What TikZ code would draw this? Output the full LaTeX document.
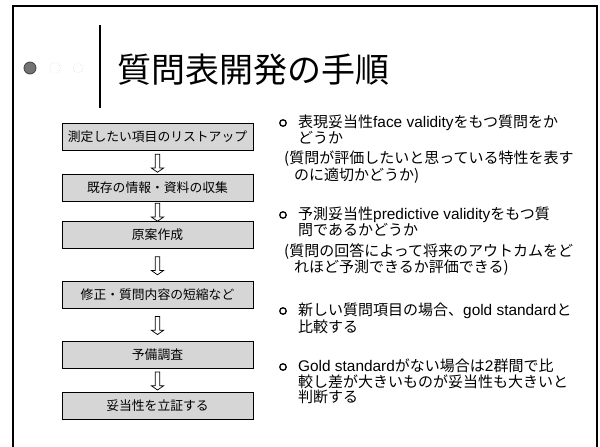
\documentclass[tikz,border=0pt]{standalone}
\usepackage{fontspec}
\setmainfont{Noto Sans CJK JP}
\newfontfamily\latf{Liberation Sans}
\usetikzlibrary{shapes.arrows,calc}
\newcommand{\lt}[1]{{\latf\fontsize{15.4}{15.5}\selectfont #1}}
\begin{document}
\begin{tikzpicture}[x=1pt,y=-1pt,
  stepbox/.style={draw=black,line width=0.6pt,fill=black!16,minimum width=191pt,minimum height=27pt,inner sep=0pt,font=\fontsize{12.8}{15}\selectfont},
  downarrow/.style={draw=black,line width=0.7pt,fill=white,single arrow,shape border rotate=270,minimum width=12pt,minimum height=18pt,single arrow head extend=3pt,single arrow tip angle=110,inner sep=1.4pt},
  bullettext/.style={anchor=north west,align=left,inner sep=0pt,font=\fontsize{15}{15.5}\selectfont},
  bulletmark/.style={circle,draw=black,line width=1.3pt,minimum size=6.5pt,inner sep=0pt}]
\useasboundingbox (0,0) rectangle (600,447);
% slide frame
\draw[line width=1.2pt] (13,447) -- (13,6) -- (597,6) -- (597,447);
% title area
\node[circle,fill=black!55,draw=black!75,line width=0.8pt,minimum size=12pt,inner sep=0pt] (d1) at (30,68) {};
\node[circle,draw=black!35,dotted,minimum size=11pt,inner sep=0pt] (d2) at (55,68) {};
\node[circle,draw=black!30,dotted,minimum size=10pt,inner sep=0pt] (d3) at (78,68) {};
\draw[line width=1.2pt] (100,25) coordinate (s1) -- (100,108) coordinate (s2);
\node[anchor=west,inner sep=0pt,font=\fontsize{34}{36}\selectfont] (title) at (117,70) {質問表開発の手順};
% steps
\node[stepbox] (b1) at (157.5,137) {測定したい項目のリストアップ};
\node[stepbox] (b2) at (157.5,188) {既存の情報・資料の収集};
\node[stepbox] (b3) at (157.5,235) {原案作成};
\node[stepbox] (b4) at (157.5,295) {修正・質問内容の短縮など};
\node[stepbox] (b5) at (157.5,354.5) {予備調査};
\node[stepbox] (b6) at (157.5,406) {妥当性を立証する};
\foreach \a/\b in {b1/b2,b2/b3,b3/b4,b4/b5,b5/b6}{
  \node[downarrow] (ar\a) at ($(\a.south)!0.5!(\b.north)$) {};
}
% right side text
\node[bulletmark] (m1) at (283,123) {};
\node[bullettext] (t1) at (298,115) {表現妥当性\lt{face validity}をもつ質問をか\\どうか};
\node[bullettext] (p1) at (284,151) {(質問が評価したいと思っている特性を表す\\\hspace*{10pt}のに適切かどうか)};
\node[bulletmark] (m2) at (283,215) {};
\node[bullettext] (t2) at (298,207) {予測妥当性\lt{predictive validity}をもつ質\\問であるかどうか};
\node[bullettext] (p2) at (284,243) {(質問の回答によって将来のアウトカムをど\\\hspace*{10pt}れほど予測できるか評価できる)};
\node[bulletmark] (m3) at (283,311) {};
\node[bullettext] (t3) at (298,303) {新しい質問項目の場合、\lt{gold standard}と\\比較する};
\node[bulletmark] (m4) at (283,367) {};
\node[bullettext] (t4) at (298,359) {\lt{Gold standard}がない場合は\lt{2}群間で比\\較し差が大きいものが妥当性も大きいと\\判断する};
\end{tikzpicture}
\end{document}
